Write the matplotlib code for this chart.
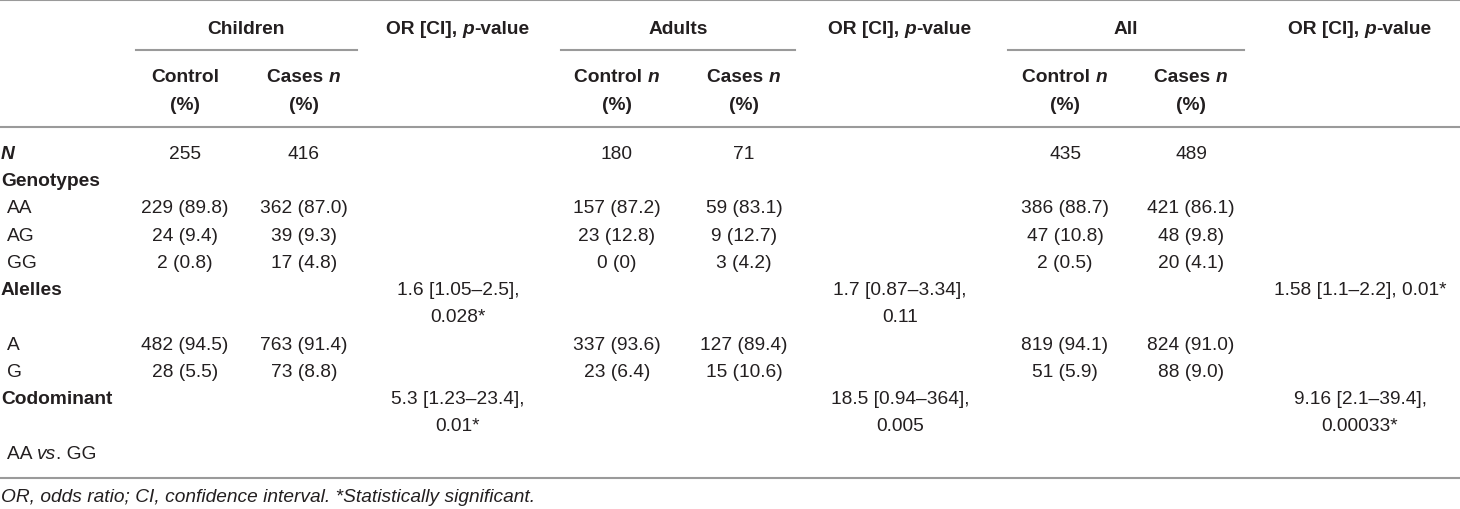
import matplotlib
matplotlib.use("Agg")
import matplotlib.pyplot as plt

plt.rcParams['font.family'] = ['Liberation Sans', 'DejaVu Sans']

# table content
groups = ["Children", "Adults", "All"]
row_labels = ["N", "Genotypes", "AA", "AG", "GG", "Alelles", "A", "G", "Codominant", "AA vs. GG"]
bold_rows = ["Genotypes", "Alelles", "Codominant"]

children_control = ["255", "", "229 (89.8)", "24 (9.4)", "2 (0.8)", "", "482 (94.5)", "28 (5.5)", "", ""]
children_cases = ["416", "", "362 (87.0)", "39 (9.3)", "17 (4.8)", "", "763 (91.4)", "73 (8.8)", "", ""]
adults_control = ["180", "", "157 (87.2)", "23 (12.8)", "0 (0)", "", "337 (93.6)", "23 (6.4)", "", ""]
adults_cases = ["71", "", "59 (83.1)", "9 (12.7)", "3 (4.2)", "", "127 (89.4)", "15 (10.6)", "", ""]
all_control = ["435", "", "386 (88.7)", "47 (10.8)", "2 (0.5)", "", "819 (94.1)", "51 (5.9)", "", ""]
all_cases = ["489", "", "421 (86.1)", "48 (9.8)", "20 (4.1)", "", "824 (91.0)", "88 (9.0)", "", ""]

children_or = {"Alelles": "1.6 [1.05–2.5],\n0.028*", "Codominant": "5.3 [1.23–23.4],\n0.01*"}
adults_or = {"Alelles": "1.7 [0.87–3.34],\n0.11", "Codominant": "18.5 [0.94–364],\n0.005"}
all_or = {"Alelles": "1.58 [1.1–2.2], 0.01*", "Codominant": "9.16 [2.1–39.4],\n0.00033*"}

footnote = "OR, odds ratio; CI, confidence interval. *Statistically significant."

# layout in pixels
W, H = 1460, 510
ink = '#231f20'
rule = '#9a9a9a'
fs = 13.8
row_y = [155, 182, 209, 237, 264, 291, 346, 373, 400, 455]
line_gap = 27
group_x = [246, 678, 1126]
group_span = [(136, 357), (561, 795), (1008, 1244)]
control_x = [185, 617, 1065]
cases_x = [304, 744, 1191]
or_x = [458, 900, 1360]

fig = plt.figure(figsize=(W / 100, H / 100), dpi=100)
ax = fig.add_axes([0, 0, 1, 1])
ax.set_xlim(0, W)
ax.set_ylim(H, 0)
ax.axis('off')
renderer = fig.canvas.get_renderer()


def seg_width(s, style, weight):
    t1 = ax.text(0, 0, '|' + s + '|', fontsize=fs, fontstyle=style, fontweight=weight)
    t2 = ax.text(0, 0, '||', fontsize=fs, fontstyle=style, fontweight=weight)
    w = t1.get_window_extent(renderer).width - t2.get_window_extent(renderer).width
    t1.remove()
    t2.remove()
    return w


def rich(x, y, parts, weight='normal', ha='center'):
    widths = [seg_width(s, st, weight) for s, st in parts]
    total = sum(widths)
    x0 = x - total / 2 if ha == 'center' else x
    for (s, st), w in zip(parts, widths):
        ax.text(x0, y, s, fontsize=fs, fontstyle=st, fontweight=weight,
                ha='left', va='center', color=ink)
        x0 += w


def cell(x, y, s, weight='normal', ha='center'):
    for i, line in enumerate(s.split('\n')):
        ax.text(x, y + i * line_gap, line, fontsize=fs, fontweight=weight,
                ha=ha, va='center', color=ink)


# rules
ax.plot([0, W], [1, 1], color=rule, lw=1.5)
ax.plot([0, W], [128, 128], color=rule, lw=1.5)
ax.plot([0, W], [479, 479], color=rule, lw=1.5)
for x1, x2 in group_span:
    ax.plot([x1, x2], [51, 51], color=rule, lw=1.5)

# header
for g, gx, ox in zip(groups, group_x, or_x):
    cell(gx, 29, g, weight='bold')
    rich(ox, 29, [("OR [CI], ", 'normal'), ("p", 'italic'), ("-value", 'normal')], weight='bold')

rich(control_x[0], 77, [("Control", 'normal')], weight='bold')
for cx in control_x[1:]:
    rich(cx, 77, [("Control ", 'normal'), ("n", 'italic')], weight='bold')
for cx in cases_x:
    rich(cx, 77, [("Cases ", 'normal'), ("n", 'italic')], weight='bold')
for cx in control_x + cases_x:
    cell(cx, 106, "(%)", weight='bold')

# row labels
for lab, y in zip(row_labels, row_y):
    if lab == "N":
        ax.text(1, y, lab, fontsize=fs, fontweight='bold', fontstyle='italic',
                ha='left', va='center', color=ink)
    elif lab in bold_rows:
        cell(1, y, lab, weight='bold', ha='left')
    elif lab == "AA vs. GG":
        rich(7, y, [("AA ", 'normal'), ("vs", 'italic'), (". GG", 'normal')], ha='left')
    else:
        cell(7, y, lab, ha='left')

# body values
columns = [children_control, children_cases, adults_control, adults_cases, all_control, all_cases]
xs = [control_x[0], cases_x[0], control_x[1], cases_x[1], control_x[2], cases_x[2]]
for col, x in zip(columns, xs):
    for v, y in zip(col, row_y):
        if v:
            cell(x, y, v)

for ors, ox in zip([children_or, adults_or, all_or], or_x):
    for lab, txt in ors.items():
        cell(ox, row_y[row_labels.index(lab)], txt)

ax.text(1, 498, footnote, fontsize=fs, fontstyle='italic', ha='left', va='center', color=ink)

fig.savefig("out.png", dpi=100)
